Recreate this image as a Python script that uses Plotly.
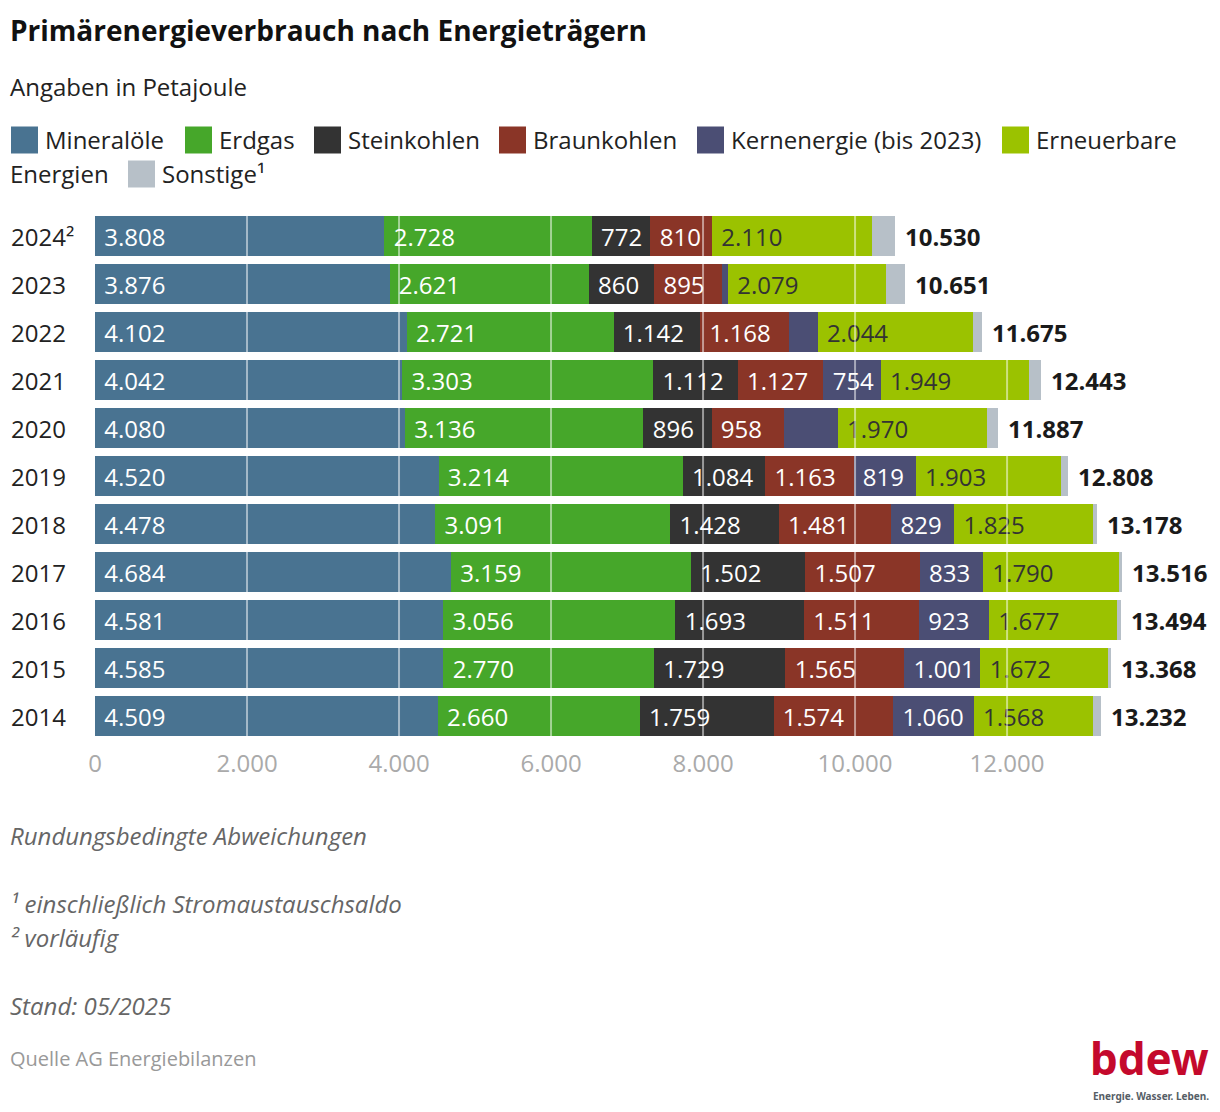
import plotly.graph_objects as go

# Primärenergieverbrauch in Petajoule, oberster Balken zuerst
years = ["2024²", "2023", "2022", "2021", "2020", "2019", "2018", "2017", "2016", "2015", "2014"]

carriers = ["Mineralöle", "Erdgas", "Steinkohlen", "Braunkohlen",
            "Kernenergie (bis 2023)", "Erneuerbare Energien", "Sonstige¹"]

mineraloele = [3808, 3876, 4102, 4042, 4080, 4520, 4478, 4684, 4581, 4585, 4509]
erdgas = [2728, 2621, 2721, 3303, 3136, 3214, 3091, 3159, 3056, 2770, 2660]
steinkohlen = [772, 860, 1142, 1112, 896, 1084, 1428, 1502, 1693, 1729, 1759]
braunkohlen = [810, 895, 1168, 1127, 958, 1163, 1481, 1507, 1511, 1565, 1574]
kernenergie = [0, 77, 375, 754, 702, 819, 829, 833, 923, 1001, 1060]
erneuerbare = [2110, 2079, 2044, 1949, 1970, 1903, 1825, 1790, 1677, 1672, 1568]
sonstige = [302, 243, 123, 156, 145, 105, 46, 41, 53, 46, 102]

totals = [10530, 10651, 11675, 12443, 11887, 12808, 13178, 13516, 13494, 13368, 13232]

x_ticks = [0, 2000, 4000, 6000, 8000, 10000, 12000]

colors = ["#497391", "#46a72a", "#333333", "#8a3527", "#4b4e74", "#9bc200", "#b7c0c8"]
text_colors = ["white", "white", "white", "white", "white", "#333333", "#333333"]
series = [mineraloele, erdgas, steinkohlen, braunkohlen, kernenergie, erneuerbare, sonstige]

FONT = "Open Sans"
FS = 24
PAGE = 8  # browser body margin
W, H = 1220 - 2 * PAGE, 1112 - 2 * PAGE
PLOT_L, PLOT_R, PLOT_T, PLOT_B = 95, 1210, 212, 740  # in page pixels
PW, PH = PLOT_R - PLOT_L, PLOT_B - PLOT_T
ML, MT = PLOT_L - PAGE, PLOT_T - PAGE
MR, MB = W - ML - PW, H - MT - PH


def de(v):
    return f"{v:,}".replace(",", ".")


def px_x(p):
    return (p - PLOT_L) / PW


def px_y(p):
    return (PLOT_B - p) / PH


fig = go.Figure()

for name, vals, col, tcol in zip(carriers, series, colors, text_colors):
    labels = ["\u00a0" + de(v) if v >= 740 else "" for v in vals]
    fig.add_trace(go.Bar(
        y=years, x=vals, name=name, orientation="h",
        marker=dict(color=col, line=dict(width=0)),
        text=labels, textposition="inside", insidetextanchor="start",
        constraintext="none",
        textfont=dict(family=FONT, size=FS, color=tcol),
        hovertemplate="%{y}: %{x:,} PJ<extra>" + name + "</extra>",
    ))

# gridlines drawn above the bars
for t in x_ticks[1:]:
    fig.add_shape(type="line", xref="x", yref="paper", x0=t, x1=t, y0=0, y1=1,
                  line=dict(color="rgba(255,255,255,0.5)", width=2), layer="above")

ann = []
# totals and year labels (y given as category index)
for i, (y, t) in enumerate(zip(years, totals)):
    ann.append(dict(x=t, y=i, xref="x", yref="y", text="<b>" + de(t) + "</b>",
                    xanchor="left", yanchor="middle", xshift=8, showarrow=False,
                    font=dict(family=FONT, size=FS, color="#1a1a1a")))
    ann.append(dict(x=px_x(9), y=i, xref="paper", yref="y", text=y,
                    xanchor="left", yanchor="middle", showarrow=False,
                    font=dict(family=FONT, size=FS, color="#222222")))

# title block
ann.append(dict(x=px_x(8), y=px_y(30), xref="paper", yref="paper",
                text="<b>Primärenergieverbrauch nach Energieträgern</b>",
                xanchor="left", yanchor="middle", showarrow=False,
                font=dict(family=FONT, size=28, color="#111111")))
ann.append(dict(x=px_x(8), y=px_y(86), xref="paper", yref="paper",
                text="Angaben in Petajoule", xanchor="left", yanchor="middle",
                showarrow=False, font=dict(family=FONT, size=FS, color="#222222")))

# custom legend with large swatches
legend_pos = [(11, 140), (185, 140), (314, 140), (499, 140), (697, 140), (1002, 140), (128, 174)]
for name, col, (lx, ly) in zip(carriers, colors, legend_pos):
    fig.add_shape(type="rect", xref="paper", yref="paper",
                  x0=px_x(lx), x1=px_x(lx + 27), y0=px_y(ly - 13.5), y1=px_y(ly + 13.5),
                  fillcolor=col, line=dict(width=0))
    parts = name.split(" ") if name.startswith("Erneuerbare") else [name]
    ann.append(dict(x=px_x(lx + 32), y=px_y(ly), xref="paper", yref="paper",
                    text=parts[0], xanchor="left", yanchor="middle", showarrow=False,
                    font=dict(family=FONT, size=FS, color="#222222")))
    if len(parts) > 1:
        ann.append(dict(x=px_x(8), y=px_y(174), xref="paper", yref="paper",
                        text=parts[1], xanchor="left", yanchor="middle", showarrow=False,
                        font=dict(family=FONT, size=FS, color="#222222")))

# footnotes
notes = [("Rundungsbedingte Abweichungen", 835),
         ("¹ einschließlich Stromaustauschsaldo", 903),
         ("² vorläufig", 937),
         ("Stand: 05/2025", 1005)]
for txt, ny in notes:
    ann.append(dict(x=px_x(8), y=px_y(ny), xref="paper", yref="paper",
                    text="<i>" + txt + "</i>", xanchor="left", yanchor="middle",
                    showarrow=False, font=dict(family=FONT, size=FS, color="#666666")))
ann.append(dict(x=px_x(8), y=px_y(1058), xref="paper", yref="paper",
                text="Quelle AG Energiebilanzen", xanchor="left", yanchor="middle",
                showarrow=False, font=dict(family=FONT, size=20, color="#999999")))

# logo
ann.append(dict(x=px_x(1211), y=px_y(1058), xref="paper", yref="paper",
                text="<b>bdew</b>", xanchor="right", yanchor="middle", showarrow=False,
                font=dict(family="Noto Sans", size=44, color="#c4092c")))
ann.append(dict(x=px_x(1211), y=px_y(1096), xref="paper", yref="paper",
                text="<b>Energie. Wasser. Leben.</b>", xanchor="right", yanchor="middle",
                showarrow=False, font=dict(family="Noto Sans", size=10, color="#555e66")))

fig.update_layout(
    width=W, height=H,
    margin=dict(l=ML, r=MR, t=MT, b=MB),
    barmode="stack", bargap=0.167,
    showlegend=False,
    separators=",.",
    plot_bgcolor="white", paper_bgcolor="white",
    font=dict(family=FONT, size=FS, color="#222222"),
    xaxis=dict(range=[0, 14670], tickvals=x_ticks, tickformat=",d",
               showgrid=False, zeroline=False, showline=False,
               tickfont=dict(family=FONT, size=FS, color="#aaaaaa"),
               ticklabelstandoff=7, fixedrange=True),
    yaxis=dict(type="category", categoryorder="array", categoryarray=years,
               range=[len(years) - 0.5, -0.5], showticklabels=False,
               showgrid=False, zeroline=False, showline=False, fixedrange=True),
    annotations=ann,
)

fig.write_html("out.html")
